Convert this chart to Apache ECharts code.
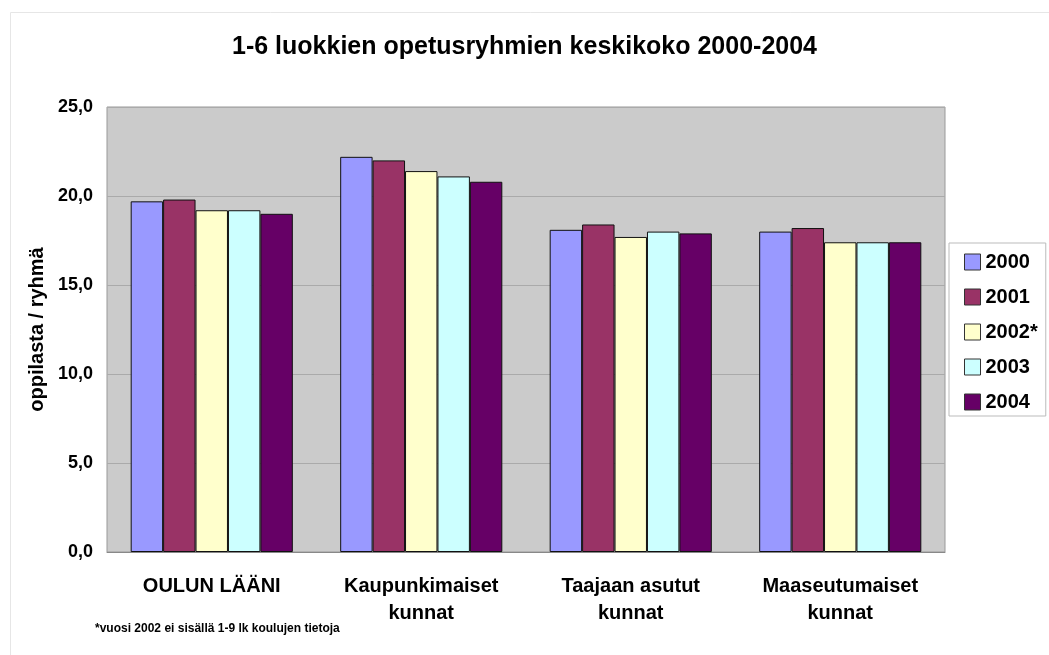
<!DOCTYPE html>
<html>
<head>
<meta charset="utf-8">
<script src="https://cdn.jsdelivr.net/npm/echarts@6/dist/echarts.min.js"></script>
<style>
  html, body { margin: 0; padding: 0; background: #fff; }
  #chart { width: 1049px; height: 655px; }
</style>
</head>
<body>
<div id="chart"></div>
<script>
// kategoriat ja vuodet
var categories = ['OULUN LÄÄNI', 'Kaupunkimaiset\nkunnat', 'Taajaan asutut\nkunnat', 'Maaseutumaiset\nkunnat'];
var years = ['2000', '2001', '2002*', '2003', '2004'];
var colors = ['#9999ff', '#993366', '#ffffcc', '#ccffff', '#660066'];

// oppilasta / ryhmä, luettu kuvasta
var v2000 = [19.7, 22.2, 18.1, 18.0];
var v2001 = [19.8, 22.0, 18.4, 18.2];
var v2002 = [19.2, 21.4, 17.7, 17.4];
var v2003 = [19.2, 21.1, 18.0, 17.4];
var v2004 = [19.0, 20.8, 17.9, 17.4];
var values = [v2000, v2001, v2002, v2003, v2004];

var yTicks = [0, 5, 10, 15, 20, 25];

var font = 'Arial, "Liberation Sans", sans-serif';

var series = years.map(function (y, i) {
    return {
        name: y,
        type: 'bar',
        data: values[i],
        barGap: '0%',
        barCategoryGap: '22.6%',
        itemStyle: { color: colors[i], borderColor: '#111', borderWidth: 1 }
    };
});

var chart = echarts.init(document.getElementById('chart'));
chart.setOption({
    animation: false,
    backgroundColor: '#fff',
    textStyle: { fontFamily: font },
    title: {
        text: '1-6 luokkien opetusryhmien keskikoko 2000-2004',
        left: 'center',
        top: 30,
        textStyle: { fontSize: 25, fontWeight: 'bold', color: '#000', fontFamily: font }
    },
    grid: { left: 107, right: 104, top: 107, bottom: 103, show: true, backgroundColor: '#cbcbcb', borderColor: '#999', borderWidth: 1 },
    legend: {
        orient: 'vertical',
        left: 949,
        top: 243,
        data: years,
        backgroundColor: '#fff',
        borderColor: '#bbb',
        borderWidth: 1,
        padding: [9, 8, 4, 15],
        itemWidth: 16,
        itemHeight: 16,
        itemGap: 15,
        icon: 'rect',
        itemStyle: { borderColor: '#333', borderWidth: 1 },
        textStyle: { fontSize: 20, fontWeight: 'bold', color: '#000', fontFamily: font }
    },
    xAxis: {
        type: 'category',
        data: categories,
        axisLine: { lineStyle: { color: '#888' } },
        axisTick: { show: false },
        axisLabel: { margin: 21, fontSize: 20, fontWeight: 'bold', color: '#000', lineHeight: 27, fontFamily: font }
    },
    yAxis: {
        type: 'value',
        min: yTicks[0],
        max: yTicks[yTicks.length - 1],
        interval: 5,
        name: 'oppilasta / ryhmä',
        nameLocation: 'middle',
        nameGap: 59,
        nameTextStyle: { fontSize: 20, fontWeight: 'bold', color: '#000', fontFamily: font },
        axisLine: { show: false },
        axisTick: { show: false },
        splitLine: { lineStyle: { color: '#aaa', width: 1 } },
        axisLabel: {
            margin: 14,
            fontSize: 18,
            fontWeight: 'bold',
            color: '#000',
            fontFamily: font,
            formatter: function (v) { return v.toFixed(1).replace('.', ','); }
        }
    },
    graphic: [{
        type: 'rect',
        left: 8,
        top: 10,
        shape: { width: 1060, height: 700 },
        style: { fill: 'none', stroke: '#e6e6e6', lineWidth: 1 },
        z: -1
    }, {
        type: 'text',
        left: 95,
        top: 623,
        style: { text: '*vuosi 2002 ei sisällä 1-9 lk koulujen tietoja', font: 'bold 12px ' + font, fill: '#000' }
    }],
    series: series
});
</script>
</body>
</html>
